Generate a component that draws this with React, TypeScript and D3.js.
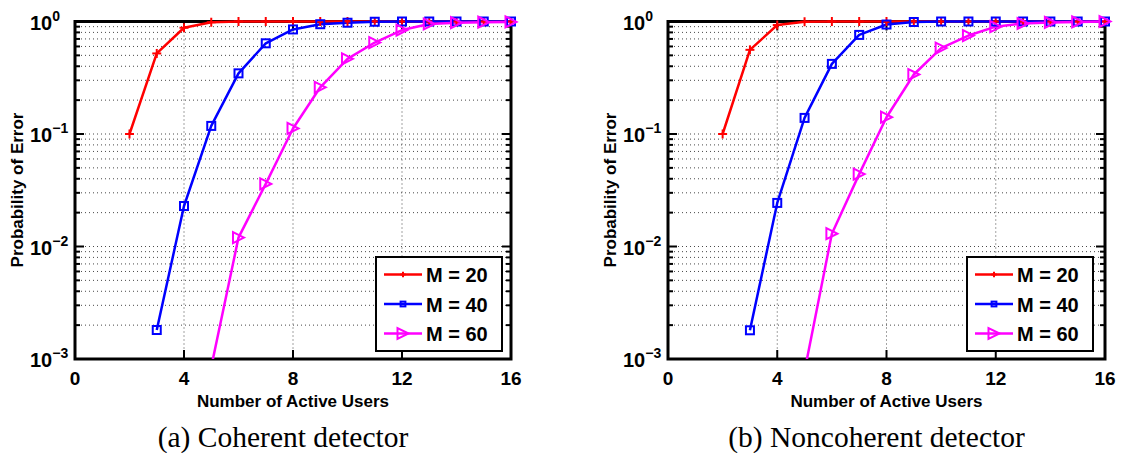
import React from "react";
import * as d3 from "d3";

// ---------- data ----------
const xTicks = [0, 4, 8, 12, 16];
const yDecades = [-3, -2, -1, 0];

const m20X = [2, 3, 4, 5, 6, 7, 8, 9, 10, 11, 12, 13, 14, 15, 16];
const m40X = [3, 4, 5, 6, 7, 8, 9, 10, 11, 12, 13, 14, 15, 16];
const m60X = [5, 6, 7, 8, 9, 10, 11, 12, 13, 14, 15, 16];

const m20Coherent = [0.1, 0.52, 0.88, 0.985, 1, 1, 1, 1, 1, 1, 1, 1, 1, 1, 1];
const m40Coherent = [0.00181, 0.0229, 0.118, 0.346, 0.64, 0.85, 0.946, 0.975, 0.995, 1, 1, 1, 1, 1];
const m60Coherent = [0.00085, 0.012, 0.036, 0.112, 0.26, 0.466, 0.65, 0.84, 0.95, 0.975, 0.985, 0.99];

const m20Noncoherent = [0.1, 0.56, 0.93, 0.995, 1, 1, 1, 1, 1, 1, 1, 1, 1, 1, 1];
const m40Noncoherent = [0.0018, 0.0244, 0.139, 0.42, 0.76, 0.94, 0.99, 1, 1, 1, 1, 1, 1, 1];
const m60Noncoherent = [0.00078, 0.013, 0.044, 0.141, 0.338, 0.58, 0.75, 0.9, 0.96, 0.98, 0.99, 1];

const seriesNames = ["M = 20", "M = 40", "M = 60"];
const seriesColors = ["#ff0000", "#0000ff", "#ff00ff"];
const seriesMarkers = ["plus", "square", "triangle"];

const captions = ["(a) Coherent detector", "(b) Noncoherent detector"];
const xLabel = "Number of Active Users";
const yLabel = "Probability of Error";

const SANS = "'Liberation Sans', Arial, Helvetica, sans-serif";
const SERIF = "'Liberation Serif', 'Times New Roman', Times, serif";

function Marker({ type, x, y, color, s = 1 }: { type: string; x: number; y: number; color: string; s?: number }) {
  if (type === "plus") {
    const r = 4.5 * s;
    return (
      <g stroke={color} strokeWidth={2}>
        <line x1={x - r} x2={x + r} y1={y} y2={y} />
        <line x1={x} x2={x} y1={y - r} y2={y + r} />
      </g>
    );
  }
  if (type === "square") {
    const r = 4 * s;
    return <rect x={x - r} y={y - r} width={2 * r} height={2 * r} fill="none" stroke={color} strokeWidth={2} />;
  }
  const r = 5.5 * s;
  return (
    <path
      d={`M${x + r},${y} L${x - r},${y - r} L${x - r},${y + r} Z`}
      fill="none"
      stroke={color}
      strokeWidth={2}
      strokeLinejoin="miter"
    />
  );
}

function Panel({
  id,
  x0,
  x1,
  values,
  caption,
  legendRight,
}: {
  id: string;
  x0: number;
  x1: number;
  values: number[][];
  caption: string;
  legendRight: number;
}) {
  const top = 21.5;
  const bottom = 359;
  const x = d3.scaleLinear().domain([0, 16]).range([x0, x1]);
  const y = d3.scaleLog().domain([1e-3, 1]).range([bottom, top]);
  const xs = [m20X, m40X, m60X];

  const minor: number[] = [];
  for (let k = -3; k < 0; k++) for (let m = 2; m <= 9; m++) minor.push(m * Math.pow(10, k));

  const line = d3
    .line<[number, number]>()
    .x((d) => x(d[0]))
    .y((d) => y(d[1]));

  const lx0 = legendRight - 126;
  const ly0 = 257;

  return (
    <g>
      <defs>
        <clipPath id={id}>
          <rect x={x0} y={top - 2} width={x1 - x0} height={bottom - top + 2} />
        </clipPath>
      </defs>
      {/* grid */}
      <g stroke="#333" strokeWidth={0.9} strokeDasharray="1,3">
        {minor.concat([0.01, 0.1]).map((v, i) => (
          <line key={"h" + i} x1={x0 + 2} x2={x1 - 2} y1={y(v)} y2={y(v)} />
        ))}
        {xTicks.slice(1, -1).map((t) => (
          <line key={"v" + t} x1={x(t)} x2={x(t)} y1={top + 2} y2={bottom - 2} />
        ))}
      </g>
      {/* ticks */}
      <g stroke="#000" strokeWidth={2}>
        {minor.map((v, i) => (
          <g key={"mt" + i}>
            <line x1={x0} x2={x0 + 5} y1={y(v)} y2={y(v)} />
            <line x1={x1} x2={x1 - 5} y1={y(v)} y2={y(v)} />
          </g>
        ))}
        {yDecades.map((e) => (
          <g key={"yt" + e}>
            <line x1={x0} x2={x0 + 9} y1={y(Math.pow(10, e))} y2={y(Math.pow(10, e))} />
            <line x1={x1} x2={x1 - 9} y1={y(Math.pow(10, e))} y2={y(Math.pow(10, e))} />
          </g>
        ))}
        {xTicks.map((t) => (
          <g key={"xt" + t}>
            <line x1={x(t)} x2={x(t)} y1={bottom} y2={bottom - 9} />
            <line x1={x(t)} x2={x(t)} y1={top} y2={top + 9} />
          </g>
        ))}
      </g>
      {/* axes box */}
      <rect x={x0} y={top} width={x1 - x0} height={bottom - top} fill="none" stroke="#000" strokeWidth={3} />
      {/* tick labels */}
      <g fontFamily={SANS} fontWeight="bold" fill="#000">
        {xTicks.map((t) => (
          <text key={"xl" + t} x={x(t)} y={385} fontSize={19} textAnchor="middle">
            {t}
          </text>
        ))}
        {yDecades.map((e) => {
          const yy = y(Math.pow(10, e));
          return (
            <text key={"yl" + e} x={x0 - 45} y={yy + 8} fontSize={20}>
              10
              <tspan fontSize={14} dy={-9}>
                {e < 0 ? "\u2212" + Math.abs(e) : String(e)}
              </tspan>
            </text>
          );
        })}
        <text x={(x0 + x1) / 2} y={407} fontSize={17} textAnchor="middle">
          {xLabel}
        </text>
        <text
          transform={`translate(${x0 - 52},190) rotate(-90)`}
          fontSize={17}
          textAnchor="middle"
        >
          {yLabel}
        </text>
      </g>
      {/* data */}
      <g clipPath={`url(#${id})`} fill="none">
        {values.map((vals, si) => (
          <path
            key={"l" + si}
            d={line(xs[si].map((xv, i) => [xv, vals[i]] as [number, number])) || ""}
            stroke={seriesColors[si]}
            strokeWidth={2.5}
            strokeLinejoin="round"
          />
        ))}
      </g>
      {values.map((vals, si) => (
        <g key={"m" + si}>
          {xs[si].map((xv, i) =>
            vals[i] >= 1e-3 ? (
              <Marker key={i} type={seriesMarkers[si]} x={x(xv)} y={y(vals[i])} color={seriesColors[si]} />
            ) : null
          )}
        </g>
      ))}
      {/* legend */}
      <rect x={lx0} y={ly0} width={126} height={94} fill="#fff" stroke="#000" strokeWidth={2} />
      {seriesNames.map((n, i) => {
        const cy = ly0 + 17.5 + i * 29.5;
        return (
          <g key={"lg" + i}>
            <line x1={lx0 + 8} x2={lx0 + 46} y1={cy} y2={cy} stroke={seriesColors[i]} strokeWidth={2.5} />
            <Marker type={seriesMarkers[i]} x={lx0 + 27} y={cy} color={seriesColors[i]} s={i === 2 ? 1 : 0.6} />
            <text x={lx0 + 50} y={cy + 7.5} fontFamily={SANS} fontWeight="bold" fontSize={20} fill="#000">
              {n}
            </text>
          </g>
        );
      })}
      {/* caption */}
      <text x={(x0 + x1) / 2 - 10} y={447} fontFamily={SERIF} fontSize={29.5} textAnchor="middle" fill="#000">
        {caption}
      </text>
    </g>
  );
}

export default function App() {
  return (
    <svg
      width={1122}
      height={453}
      style={{ position: "absolute", left: 0, top: 0, background: "#fff" }}
    >
      <rect x={0} y={0} width={1122} height={453} fill="#fff" />
      <Panel
        id="clipA"
        x0={75}
        x1={511}
        values={[m20Coherent, m40Coherent, m60Coherent]}
        caption={captions[0]}
        legendRight={502}
      />
      <Panel
        id="clipB"
        x0={668}
        x1={1105}
        values={[m20Noncoherent, m40Noncoherent, m60Noncoherent]}
        caption={captions[1]}
        legendRight={1093}
      />
    </svg>
  );
}
